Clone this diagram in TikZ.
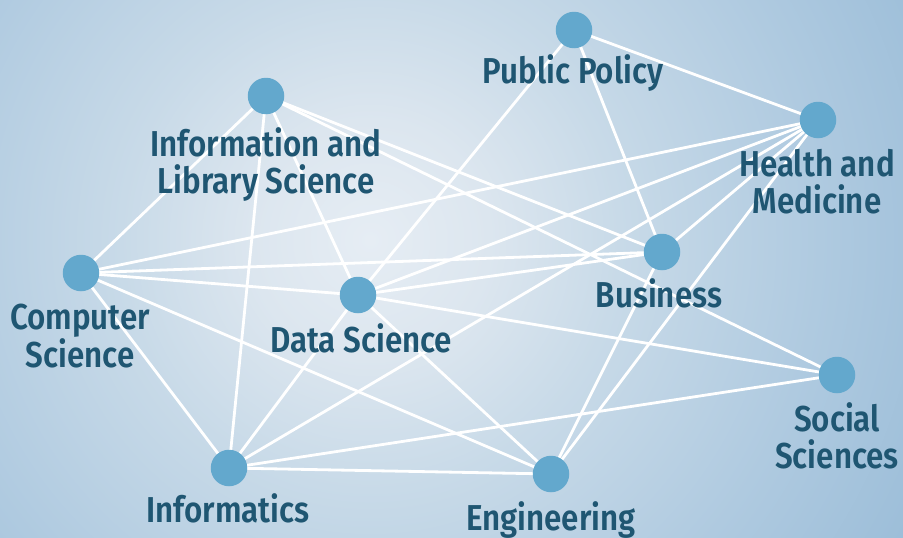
\documentclass[tikz,border=0pt]{standalone}
\usepackage{fontspec}
\setmainfont{Fira Sans}[UprightFont=* SemiBold, FakeStretch=0.87]
\definecolor{bgA}{HTML}{E6EDF4}
\definecolor{bgB}{HTML}{DCE6EF}
\definecolor{bgC}{HTML}{C8DAE8}
\definecolor{bgD}{HTML}{AFCAE0}
\definecolor{bgE}{HTML}{98BBD7}
\definecolor{dotc}{HTML}{63A8CD}
\definecolor{labc}{HTML}{1F5672}
\pgfdeclareradialshading{bgshade}{\pgfpoint{0bp}{0bp}}{color(0bp)=(bgA); color(4.6bp)=(bgB); color(9.6bp)=(bgC); color(17.3bp)=(bgD); color(25bp)=(bgE); color(50bp)=(bgE)}
\pgfdeclarelayer{bglayer}
\pgfdeclarelayer{edgelayer}
\pgfsetlayers{bglayer,edgelayer,main}
\tikzset{
  dot/.style={circle, fill=dotc, minimum size=36.5pt, inner sep=0pt},
  lab/.style={text=labc, align=center, anchor=base, inner sep=0pt, font=\fontsize{36}{36.5}\selectfont},
  link/.style={draw=white, line width=2.8pt}
}
\begin{document}
\begin{tikzpicture}[x=1pt,y=-1pt]
\useasboundingbox (0,0) rectangle (903,538);
\begin{pgfonlayer}{bglayer}
\begin{scope}
\clip (0,0) rectangle (903,538);
\shade[shading=bgshade] (370,240) circle (650pt);
\end{scope}
\end{pgfonlayer}
% dots
\node[dot] (pp) at (574,30) {};
\node[dot] (ils) at (266,96) {};
\node[dot] (hm) at (818,120) {};
\node[dot] (bu) at (662,252) {};
\node[dot] (cs) at (81,273) {};
\node[dot] (ds) at (358,295) {};
\node[dot] (ss) at (837,375) {};
\node[dot] (inf) at (229,468) {};
\node[dot] (en) at (551,474) {};
% labels (base = last line baseline)
\node[lab] (lpp) at (573,83) {Public Policy};
\node[lab] (lils) at (266,193) {Information and\\Library Science};
\node[lab] (lhm) at (817,213) {Health and\\Medicine};
\node[lab] (lcs) at (80,367) {Computer\\Science};
\node[lab] (lbu) at (659,307) {Business};
\node[lab] (lds) at (361,352) {Data Science};
\node[lab] (lss) at (837,468) {Social\\Sciences};
\node[lab] (linf) at (228,522) {Informatics};
\node[lab] (len) at (551,530) {Engineering};
% links
\begin{pgfonlayer}{edgelayer}
\draw[link] (cs.center) -- (ils.center);
\draw[link] (cs.center) -- (hm.center);
\draw[link] (cs.center) -- (bu.center);
\draw[link] (cs.center) -- (ds.center);
\draw[link] (cs.center) -- (inf.center);
\draw[link] (cs.center) -- (en.center);
\draw[link] (ils.center) -- (inf.center);
\draw[link] (ils.center) -- (ds.center);
\draw[link] (ils.center) -- (bu.center);
\draw[link] (ils.center) -- (ss.center);
\draw[link] (pp.center) -- (hm.center);
\draw[link] (pp.center) -- (bu.center);
\draw[link] (pp.center) -- (ds.center);
\draw[link] (hm.center) -- (ds.center);
\draw[link] (hm.center) -- (bu.center);
\draw[link] (hm.center) -- (inf.center);
\draw[link] (hm.center) -- (en.center);
\draw[link] (ds.center) -- (bu.center);
\draw[link] (ds.center) -- (ss.center);
\draw[link] (ds.center) -- (inf.center);
\draw[link] (ds.center) -- (en.center);
\draw[link] (inf.center) -- (ss.center);
\draw[link] (inf.center) -- (en.center);
\draw[link] (en.center) -- (bu.center);
\end{pgfonlayer}
\end{tikzpicture}
\end{document}
